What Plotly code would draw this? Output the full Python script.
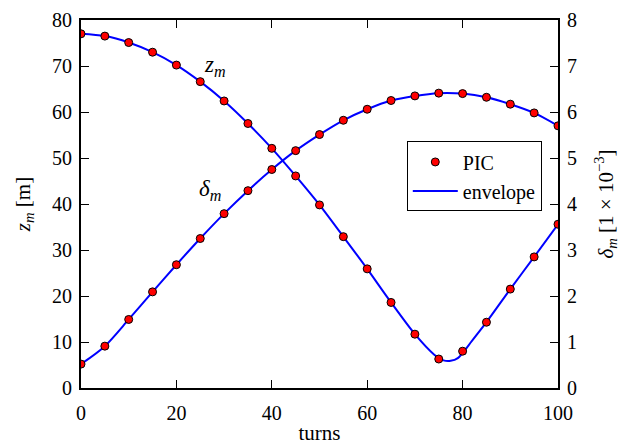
import plotly.graph_objects as go

turns = [0, 5, 10, 15, 20, 25, 30, 35, 40, 45, 50, 55, 60, 65, 70, 75, 80, 85, 90, 95, 100]
z_pic = [77.0, 76.5, 75.1, 73.0, 70.2, 66.6, 62.4, 57.5, 52.1, 46.1, 39.8, 32.9, 25.9, 18.6, 11.7, 6.3, 8.0, 14.3, 21.5, 28.5, 35.6]
d_pic = [0.52, 0.91, 1.49, 2.09, 2.68, 3.25, 3.79, 4.29, 4.75, 5.16, 5.51, 5.82, 6.06, 6.25, 6.35, 6.41, 6.40, 6.32, 6.17, 5.98, 5.70]

env_turns_z = [0, 5, 10, 15, 20, 25, 30, 35, 40, 45, 50, 55, 60, 65, 70, 74, 76, 77.5, 79, 82, 85, 90, 95, 100]
z_env = [77.0, 76.5, 75.1, 73.0, 70.2, 66.6, 62.4, 57.5, 52.1, 46.1, 39.8, 32.9, 25.9, 18.6, 11.7, 7.3, 6.0, 5.9, 6.5, 10.3, 14.3, 21.5, 28.5, 35.6]
env_turns_d = turns
d_env = d_pic

FONT = "Liberation Serif"
fig = go.Figure()

fig.add_trace(go.Scatter(x=env_turns_z, y=z_env, mode="lines", line=dict(color="#0000ff", width=2, shape="spline", smoothing=0.8),
                         name="envelope", showlegend=False))
fig.add_trace(go.Scatter(x=env_turns_d, y=d_env, mode="lines", line=dict(color="#0000ff", width=2, shape="spline", smoothing=0.8),
                         name="envelope", showlegend=False, yaxis="y2"))
fig.add_trace(go.Scatter(x=turns, y=z_pic, mode="markers", name="PIC",
                         marker=dict(color="#ff0000", size=8, line=dict(color="black", width=1)), showlegend=True))
fig.add_trace(go.Scatter(x=turns, y=d_pic, mode="markers", name="PIC", yaxis="y2",
                         marker=dict(color="#ff0000", size=8, line=dict(color="black", width=1)), showlegend=False))
fig.add_trace(go.Scatter(x=[None], y=[None], mode="lines", name="envelope", line=dict(color="#0000ff", width=2)))

axis_common = dict(showgrid=False, zeroline=False, ticks="inside", ticklen=8, tickwidth=1, tickcolor="black",
                   showline=True, linecolor="black", linewidth=2, automargin=False,
                   tickfont=dict(family=FONT, size=20, color="black"))

fig.update_layout(
    width=621, height=445,
    margin=dict(l=81, r=63, t=20, b=57),
    plot_bgcolor="white", paper_bgcolor="white",
    font=dict(family=FONT, color="black"),
    xaxis=dict(range=[0, 100], tickvals=[0, 20, 40, 60, 80, 100], mirror="ticks", ticklabelstandoff=6,
               title=dict(text="turns", font=dict(family=FONT, size=21), standoff=4), **axis_common),
    yaxis=dict(range=[0, 80], tickvals=list(range(0, 81, 10)), mirror="ticks", ticklabelstandoff=3,
               title=dict(text="<i>z</i><sub><i>m</i></sub> [m]", font=dict(family=FONT, size=21), standoff=16), **axis_common),
    yaxis2=dict(range=[0, 8], tickvals=list(range(0, 9)), overlaying="y", side="right", anchor="x", ticklabelstandoff=3,
                title=dict(text="<i>δ</i><sub><i>m</i></sub> [1 × 10<sup>−3</sup>]", font=dict(family=FONT, size=21), standoff=22),
                **axis_common),
    legend=dict(x=0.683, y=0.67, xanchor="left", yanchor="top", bordercolor="black", borderwidth=1,
                bgcolor="white", font=dict(family=FONT, size=20), tracegroupgap=0, itemwidth=45),
    annotations=[
        dict(x=28, y=70, xref="x", yref="y", text="<i>z</i><sub><i>m</i></sub>", showarrow=False,
             font=dict(family=FONT, size=23)),
        dict(x=27, y=43, xref="x", yref="y", text="<i>δ</i><sub><i>m</i></sub>", showarrow=False,
             font=dict(family=FONT, size=23)),
    ],
)

fig.write_html("out.html")
